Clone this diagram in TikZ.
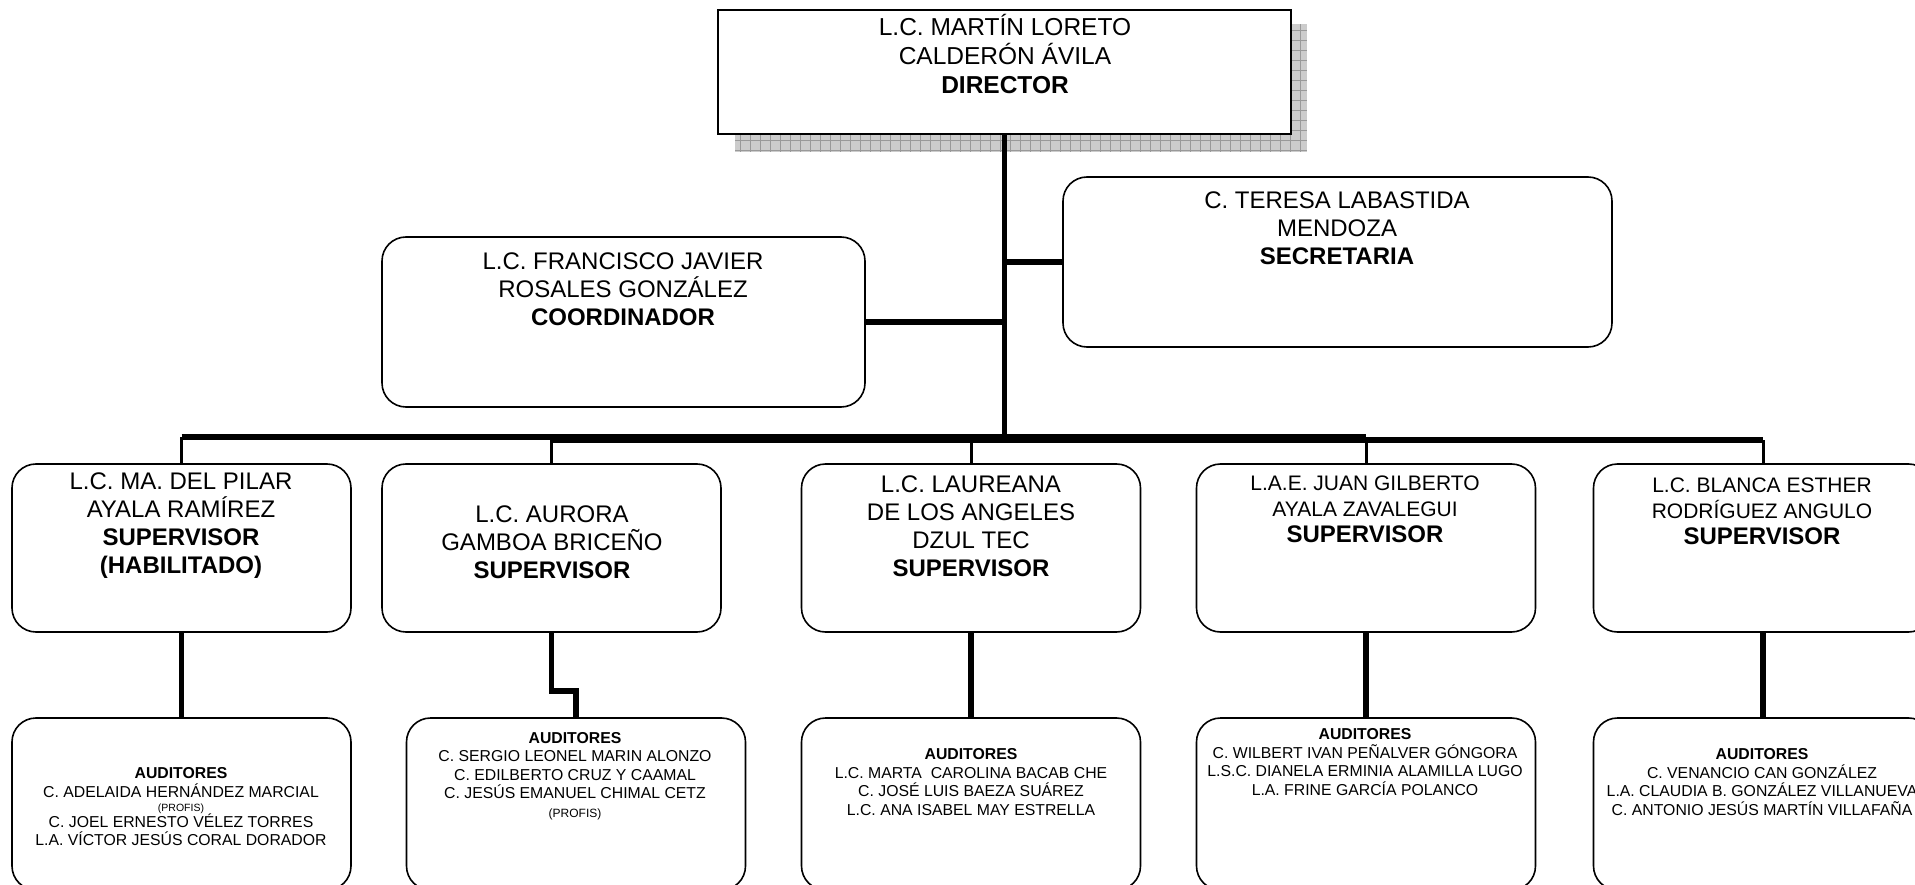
\documentclass[tikz,border=0pt]{standalone}
\usepackage{fontspec}
\setmainfont{Liberation Sans}
\usetikzlibrary{positioning}

\begin{document}
\begin{tikzpicture}[x=1pt, y=1pt,
            orgbox/.style={draw, rounded corners=24pt, line width=1.6pt, fill=white, inner sep=0pt},
            supbox/.style={orgbox, minimum width=339pt, minimum height=168pt},
            audbox/.style={orgbox, minimum width=339pt, minimum height=172pt},
            nametext/.style={align=center, inner sep=0pt, font=\fontsize{24}{28}\selectfont},
            audtext/.style={align=center, inner sep=0pt, font=\fontsize{15.8}{18.5}\selectfont},
            thin link/.style={line width=3pt},
            link/.style={line width=5.5pt}]
            \useasboundingbox (0,0) rectangle (1915,-885);
            \clip (0,0) rectangle (1915,-885);

            \fill[gray!40] (735,-24) rectangle (1307,-152);
            \draw[gray!80, line width=0.7pt, xstep=10pt, ystep=10pt] (735,-24) grid (1307,-152);
            \node[draw, line width=1.8pt, fill=white, inner sep=0pt, minimum width=573pt, minimum height=124pt] (dir) at (1004.5,-72) {};
            \node[nametext, font=\fontsize{24.5}{29}\selectfont] (dirtxt) at (1005,-54) {L.C. MARTÍN LORETO\\CALDERÓN ÁVILA\\\textbf{DIRECTOR}};

            \node[orgbox, minimum width=483pt, minimum height=170pt] (coord) at (623.5,-322) {};
            \node[nametext] (coordtxt) at (623,-289) {L.C. FRANCISCO JAVIER\\ROSALES GONZÁLEZ\\\textbf{COORDINADOR}};
            \node[orgbox, minimum width=549pt, minimum height=170pt] (secr) at (1337.5,-262) {};
            \node[nametext] (secrtxt) at (1337,-228) {C. TERESA LABASTIDA\\MENDOZA\\\textbf{SECRETARIA}};

            \node[supbox] (sup1) at (181.5,-548) {};
            \node[supbox] (sup2) at (551.5,-548) {};
            \node[supbox] (sup3) at (971,-548) {};
            \node[supbox] (sup4) at (1366,-548) {};
            \node[supbox] (sup5) at (1763,-548) {};
            \node[nametext] (sup1txt) at (181,-526) {L.C. MA. DEL PILAR\\AYALA RAMÍREZ\\\textbf{SUPERVISOR}\\\textbf{(HABILITADO)}};
            \node[nametext] (sup2txt) at (552,-542) {L.C. AURORA\\GAMBOA BRICEÑO\\\textbf{SUPERVISOR}};
            \node[nametext] (sup3txt) at (971,-526) {L.C. LAUREANA\\DE LOS ANGELES\\DZUL TEC\\\textbf{SUPERVISOR}};
            \node[nametext, font=\fontsize{21}{26}\selectfont] (sup4txt) at (1365,-509) {L.A.E. JUAN GILBERTO\\AYALA ZAVALEGUI\\{\fontsize{24}{28}\selectfont\textbf{SUPERVISOR}}};
            \node[nametext, font=\fontsize{21}{26}\selectfont] (sup5txt) at (1762,-511) {L.C. BLANCA ESTHER\\RODRÍGUEZ ANGULO\\{\fontsize{24}{28}\selectfont\textbf{SUPERVISOR}}};

            \node[audbox] (aud1) at (181.5,-804) {};
            \node[audbox] (aud2) at (576,-804) {};
            \node[audbox] (aud3) at (971,-804) {};
            \node[audbox] (aud4) at (1366,-804) {};
            \node[audbox] (aud5) at (1763,-804) {};
            \node[audtext] (aud1txt) at (181,-807) {\textbf{AUDITORES}\\C. ADELAIDA HERNÁNDEZ MARCIAL\\[-4pt]{\fontsize{10.5}{12}\selectfont (PROFIS)}\\[-3pt]C. JOEL ERNESTO VÉLEZ TORRES\\L.A. VÍCTOR JESÚS CORAL DORADOR};
            \node[audtext] (aud2txt) at (575,-776) {\textbf{AUDITORES}\\C. SERGIO LEONEL MARIN ALONZO\\C. EDILBERTO CRUZ Y CAAMAL\\C. JESÚS EMANUEL CHIMAL CETZ\\{\fontsize{12}{14}\selectfont (PROFIS)}};
            \node[audtext] (aud3txt) at (971,-782) {\textbf{AUDITORES}\\L.C. MARTA~ CAROLINA BACAB CHE\\C. JOSÉ LUIS BAEZA SUÁREZ\\L.C. ANA ISABEL MAY ESTRELLA};
            \node[audtext] (aud4txt) at (1365,-762) {\textbf{AUDITORES}\\C. WILBERT IVAN PEÑALVER GÓNGORA\\L.S.C. DIANELA ERMINIA ALAMILLA LUGO\\L.A. FRINE GARCÍA POLANCO};
            \node[audtext] (aud5txt) at (1762,-782) {\textbf{AUDITORES}\\C. VENANCIO CAN GONZÁLEZ\\L.A. CLAUDIA B. GONZÁLEZ VILLANUEVA\\C. ANTONIO JESÚS MARTÍN VILLAFAÑA};

            \coordinate (busA) at (0,-437);
            \coordinate (busB) at (0,-440);
            \draw[link] (dir.south) -- (dir.south |- busA);
            \draw[link] (coord.east) -- (coord.east -| dir.south);
            \draw[link] (secr.west) -- (secr.west -| dir.south);
            \draw[link] (sup1.north |- busA) -- (sup4.north |- busA);
            \draw[link] (sup2.north |- busB) -- (sup5.north |- busB);

            \draw[thin link] (sup1.north |- busA) -- (sup1.north);
            \draw[thin link] (sup2.north |- busB) -- (sup2.north);
            \draw[thin link] (sup3.north |- busB) -- (sup3.north);
            \draw[thin link] (sup4.north |- busB) -- (sup4.north);
            \draw[thin link] (sup5.north |- busB) -- (sup5.north);

            \draw[link] (sup1.south) -- (aud1.north);
            \draw[link] (sup2.south) -- ++(0,-58) -| (aud2.north);
            \draw[link] (sup3.south) -- (aud3.north);
            \draw[link] (sup4.south) -- (aud4.north);
            \draw[link] (sup5.south) -- (aud5.north);
        \end{tikzpicture}
\end{document}
